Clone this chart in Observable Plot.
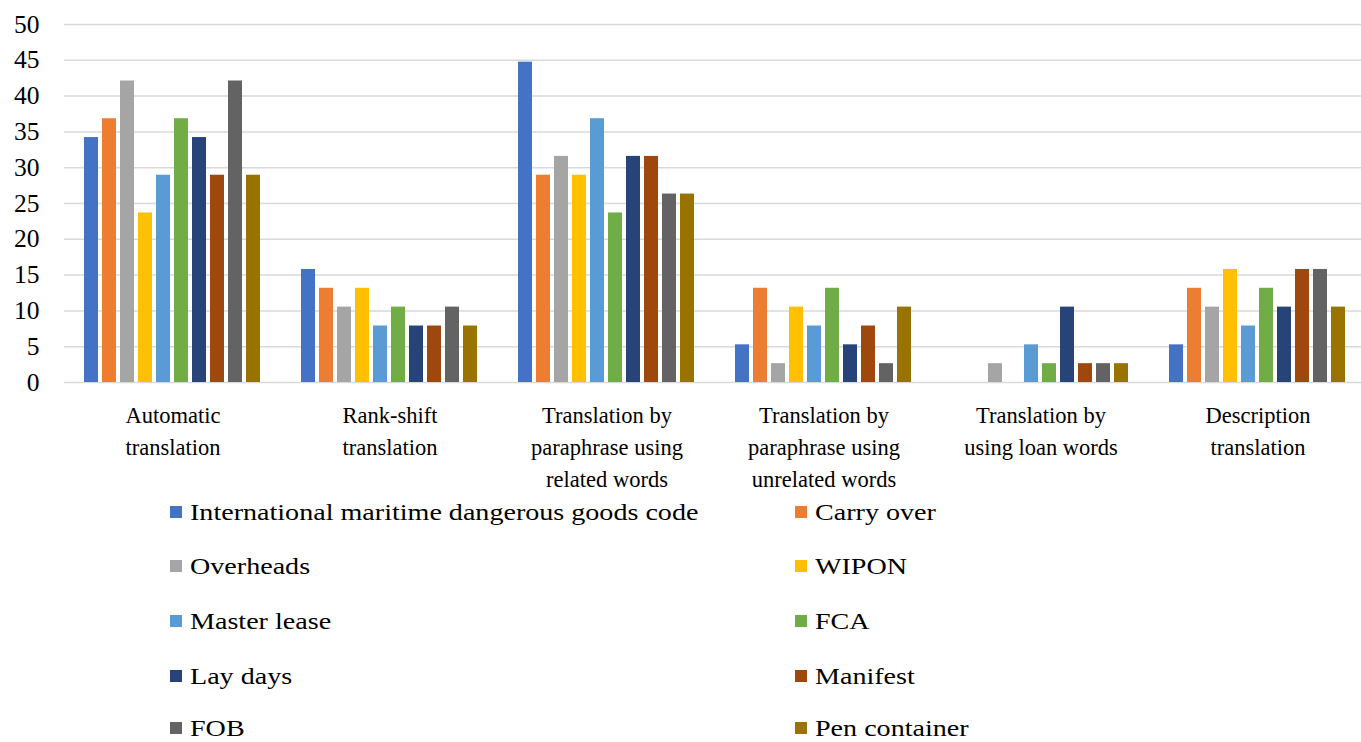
<!DOCTYPE html>
<html>
<head>
<meta charset="utf-8">
<script src="https://cdn.jsdelivr.net/npm/d3@7"></script>
<script src="https://cdn.jsdelivr.net/npm/@observablehq/plot@0.6"></script>
<style>
  html, body { margin: 0; padding: 0; background: #fff; }
  #wrap { position: relative; width: 1361px; height: 742px; font-family: "Liberation Serif", serif; overflow: hidden; }
  #chart svg text { font-family: "Liberation Serif", serif; }
  .leg { position: absolute; display: flex; align-items: center; font-size: 24px; color: #000; white-space: nowrap; line-height: 20px; height: 20px; }
  .sw { width: 12px; height: 12px; margin-right: 8px; flex: none; }
  .tx { display: inline-block; transform: scaleX(1.17); transform-origin: left center; }
</style>
</head>
<body>
<div id="wrap"><div id="chart"></div></div>
<script>
const categories = ["Automatic translation", "Rank-shift translation", "Translation by paraphrase using related words", "Translation by paraphrase using unrelated words", "Translation by using loan words", "Description translation"];
const categoryLabels = ["Automatic\ntranslation", "Rank-shift\ntranslation", "Translation by\nparaphrase using\nrelated words", "Translation by\nparaphrase using\nunrelated words", "Translation by\nusing loan words", "Description\ntranslation"];
const series = ["International maritime dangerous goods code", "Carry over", "Overheads", "WIPON", "Master lease", "FCA", "Lay days", "Manifest", "FOB", "Pen container"];
const colors = ["#4472C4", "#ED7D31", "#A5A5A5", "#FFC000", "#5B9BD5", "#70AD47", "#264478", "#9E480E", "#636363", "#997300"];

const automatic   = [34.21, 36.84, 42.11, 23.68, 28.95, 36.84, 34.21, 28.95, 42.11, 28.95];
const rankShift   = [15.79, 13.16, 10.53, 13.16, 7.89, 10.53, 7.89, 7.89, 10.53, 7.89];
const related     = [44.74, 28.95, 31.58, 28.95, 36.84, 23.68, 31.58, 31.58, 26.32, 26.32];
const unrelated   = [5.26, 13.16, 2.63, 10.53, 7.89, 13.16, 5.26, 7.89, 2.63, 10.53];
const loanWords   = [0, 0, 2.63, 0, 5.26, 2.63, 10.53, 2.63, 2.63, 2.63];
const description = [5.26, 13.16, 10.53, 15.79, 7.89, 13.16, 10.53, 15.79, 15.79, 10.53];
const yTicks = [0, 5, 10, 15, 20, 25, 30, 35, 40, 45, 50];

const valuesByCategory = [automatic, rankShift, related, unrelated, loanWords, description];
const data = [];
categories.forEach((c, i) => series.forEach((s, j) => data.push({cat: c, series: s, value: valuesByCategory[i][j]})));
const labelOf = new Map(categories.map((c, i) => [c, categoryLabels[i]]));

const chart = Plot.plot({
  width: 1361,
  height: 500,
  marginLeft: 69,
  marginRight: 0,
  marginTop: 24,
  marginBottom: 118,
  style: {fontFamily: "Liberation Serif", background: "white", color: "#000"},
  fx: {domain: categories, paddingInner: 0.147, paddingOuter: 0.04, label: null, axis: null},
  x: {domain: series, paddingInner: 0.21, paddingOuter: 0, axis: null},
  y: {domain: [0, 50], axis: null},
  color: {domain: series, range: colors},
  marks: [
    Plot.ruleY(yTicks, {stroke: "#d9d9d9", strokeWidth: 1.5, insetLeft: -16, insetRight: -16}),
    Plot.barY(data, {fx: "cat", x: "series", y: "value", fill: "series"}),
    Plot.axisY({ticks: yTicks, tickSize: 0, tickPadding: 41, fontSize: 25.5, fill: "#000", label: null}),
    Plot.axisFx({anchor: "bottom", tickSize: 0, tickPadding: 18, fontSize: 22.5, lineHeight: 1.42, fill: "#000", label: null, tickFormat: d => labelOf.get(d)})
  ]
});
document.getElementById("chart").appendChild(chart);

// Legend (HTML, below the SVG)
const wrap = document.getElementById("wrap");
const rowY = [512, 566, 621, 676, 728];
series.forEach((s, j) => {
  const col = j % 2, row = Math.floor(j / 2);
  const el = document.createElement("div");
  el.className = "leg";
  el.style.left = (col === 0 ? 170 : 795) + "px";
  el.style.top = (rowY[row] - 10) + "px";
  const sw = document.createElement("span");
  sw.className = "sw";
  sw.style.background = colors[j];
  const tx = document.createElement("span");
  tx.className = "tx";
  tx.textContent = s;
  el.appendChild(sw);
  el.appendChild(tx);
  wrap.appendChild(el);
});
</script>
</body>
</html>
